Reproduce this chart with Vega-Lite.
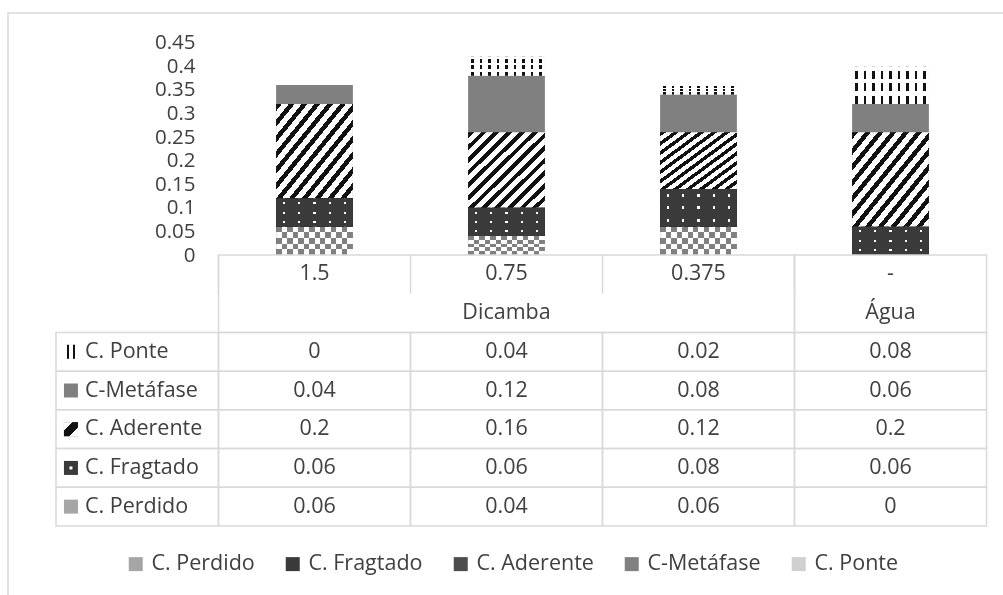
{
  "$schema": "https://vega.github.io/schema/vega-lite/v6.json",
  "width": 1010,
  "height": 600,
  "autosize": {"type": "none"},
  "padding": {"left": 8, "top": 13, "right": -15, "bottom": -18},
  "background": "white",
  "config": {
    "view": {"stroke": "#d9d9d9", "strokeWidth": 1.5},
    "font": "Open Sans",
    "text": {"font": "Open Sans", "fontSize": 21.5, "fill": "#404040"}
  },
  "datasets": {
    "cells": [
      {"dose": "1.5", "group": "Dicamba", "series": "C. Ponte", "value": 0},
      {"dose": "1.5", "group": "Dicamba", "series": "C-Metáfase", "value": 0.04},
      {"dose": "1.5", "group": "Dicamba", "series": "C. Aderente", "value": 0.2},
      {"dose": "1.5", "group": "Dicamba", "series": "C. Fragtado", "value": 0.06},
      {"dose": "1.5", "group": "Dicamba", "series": "C. Perdido", "value": 0.06},
      {"dose": "0.75", "group": "Dicamba", "series": "C. Ponte", "value": 0.04},
      {"dose": "0.75", "group": "Dicamba", "series": "C-Metáfase", "value": 0.12},
      {"dose": "0.75", "group": "Dicamba", "series": "C. Aderente", "value": 0.16},
      {"dose": "0.75", "group": "Dicamba", "series": "C. Fragtado", "value": 0.06},
      {"dose": "0.75", "group": "Dicamba", "series": "C. Perdido", "value": 0.04},
      {"dose": "0.375", "group": "Dicamba", "series": "C. Ponte", "value": 0.02},
      {"dose": "0.375", "group": "Dicamba", "series": "C-Metáfase", "value": 0.08},
      {"dose": "0.375", "group": "Dicamba", "series": "C. Aderente", "value": 0.12},
      {"dose": "0.375", "group": "Dicamba", "series": "C. Fragtado", "value": 0.08},
      {"dose": "0.375", "group": "Dicamba", "series": "C. Perdido", "value": 0.06},
      {"dose": "-", "group": "Água", "series": "C. Ponte", "value": 0.08},
      {"dose": "-", "group": "Água", "series": "C-Metáfase", "value": 0.06},
      {"dose": "-", "group": "Água", "series": "C. Aderente", "value": 0.2},
      {"dose": "-", "group": "Água", "series": "C. Fragtado", "value": 0.06},
      {"dose": "-", "group": "Água", "series": "C. Perdido", "value": 0}
    ],
    "doses": [{"dose": "1.5"}, {"dose": "0.75"}, {"dose": "0.375"}, {"dose": "-"}],
    "groups": [
      {"group": "Dicamba", "first": "1.5", "last": "0.375", "center": "0.75"},
      {"group": "Água", "first": "-", "last": "-", "center": "-"}
    ],
    "series": [
      {"series": "C. Ponte"},
      {"series": "C-Metáfase"},
      {"series": "C. Aderente"},
      {"series": "C. Fragtado"},
      {"series": "C. Perdido"}
    ]
  },
  "resolve": {"scale": {"x": "independent", "y": "independent"}},
  "layer": [
    {
      "data": {"name": "cells"},
      "transform": [
        {"calculate": "indexof(['C. Perdido','C. Fragtado','C. Aderente','C-Metáfase','C. Ponte'], datum.series)", "as": "k"},
        {"stack": "value", "groupby": ["dose"], "sort": [{"field": "k", "order": "ascending"}], "as": ["v0", "v1"]}
      ],
      "encoding": {
        "x": {"field": "dose", "type": "nominal", "axis": null,
          "scale": {"type": "band", "domain": ["1.5", "0.75", "0.375", "-"], "range": [210.5, 978.5], "paddingInner": 0.6, "paddingOuter": 0.3, "round": false}},
        "y": {"field": "v1", "type": "quantitative",
          "scale": {"domain": [0, 0.45], "range": [242, 29.6], "nice": false, "zero": true},
          "axis": {"values": [0, 0.05, 0.1, 0.15, 0.2, 0.25, 0.3, 0.35, 0.4, 0.45], "format": ".2~f", "domain": false, "ticks": false, "grid": false, "title": null, "labelPadding": 0, "offset": -187, "labelFontSize": 20.5, "labelColor": "#404040", "labelFont": "Open Sans", "labelOverlap": false, "labelFlush": false, "labelBound": false}},
        "y2": {"field": "v0"}
      },
      "layer": [
        {
          "mark": {"type": "bar"},
          "encoding": {
            "color": {"field": "series", "type": "nominal",
              "scale": {"domain": ["C. Perdido", "C. Fragtado", "C. Aderente", "C-Metáfase", "C. Ponte"], "range": ["#a6a6a6", "#3a3a3a", "#4d4d4d", "#808080", "#d0d0d0"]},
              "legend": {"orient": "none", "legendX": 117, "legendY": 540, "direction": "horizontal", "title": null, "symbolType": "square", "symbolSize": 196, "symbolStrokeWidth": 0, "labelFontSize": 21.5, "labelColor": "#404040", "labelFont": "Open Sans", "labelOffset": 5, "columnPadding": 27, "labelLimit": 300}}
          }
        },
        {
          "transform": [{"filter": "datum.series === 'C. Aderente'"}],
          "mark": {"type": "bar", "fill": {"gradient": "linear", "x1": 0, "y1": 0, "x2": 1, "y2": 1, "stops": [
            {"offset": 0, "color": "#111111"}, {"offset": 0.0375, "color": "#111111"}, {"offset": 0.0375, "color": "#ffffff"}, {"offset": 0.0833, "color": "#ffffff"},
            {"offset": 0.0833, "color": "#111111"}, {"offset": 0.1208, "color": "#111111"}, {"offset": 0.1208, "color": "#ffffff"}, {"offset": 0.1667, "color": "#ffffff"},
            {"offset": 0.1667, "color": "#111111"}, {"offset": 0.2042, "color": "#111111"}, {"offset": 0.2042, "color": "#ffffff"}, {"offset": 0.25, "color": "#ffffff"},
            {"offset": 0.25, "color": "#111111"}, {"offset": 0.2875, "color": "#111111"}, {"offset": 0.2875, "color": "#ffffff"}, {"offset": 0.3333, "color": "#ffffff"},
            {"offset": 0.3333, "color": "#111111"}, {"offset": 0.3708, "color": "#111111"}, {"offset": 0.3708, "color": "#ffffff"}, {"offset": 0.4167, "color": "#ffffff"},
            {"offset": 0.4167, "color": "#111111"}, {"offset": 0.4542, "color": "#111111"}, {"offset": 0.4542, "color": "#ffffff"}, {"offset": 0.5, "color": "#ffffff"},
            {"offset": 0.5, "color": "#111111"}, {"offset": 0.5375, "color": "#111111"}, {"offset": 0.5375, "color": "#ffffff"}, {"offset": 0.5833, "color": "#ffffff"},
            {"offset": 0.5833, "color": "#111111"}, {"offset": 0.6208, "color": "#111111"}, {"offset": 0.6208, "color": "#ffffff"}, {"offset": 0.6667, "color": "#ffffff"},
            {"offset": 0.6667, "color": "#111111"}, {"offset": 0.7042, "color": "#111111"}, {"offset": 0.7042, "color": "#ffffff"}, {"offset": 0.75, "color": "#ffffff"},
            {"offset": 0.75, "color": "#111111"}, {"offset": 0.7875, "color": "#111111"}, {"offset": 0.7875, "color": "#ffffff"}, {"offset": 0.8333, "color": "#ffffff"},
            {"offset": 0.8333, "color": "#111111"}, {"offset": 0.8708, "color": "#111111"}, {"offset": 0.8708, "color": "#ffffff"}, {"offset": 0.9167, "color": "#ffffff"},
            {"offset": 0.9167, "color": "#111111"}, {"offset": 0.9542, "color": "#111111"}, {"offset": 0.9542, "color": "#ffffff"}, {"offset": 1, "color": "#ffffff"}
          ]}}
        },
        {
          "transform": [{"filter": "datum.series === 'C. Ponte'"}],
          "mark": {"type": "bar", "fill": {"gradient": "linear", "x1": 0, "y1": 0, "x2": 1, "y2": 0, "stops": [
            {"offset": 0, "color": "#ffffff"},
            {"offset": 0.0389, "color": "#ffffff"}, {"offset": 0.0389, "color": "#111111"}, {"offset": 0.0722, "color": "#111111"}, {"offset": 0.0722, "color": "#ffffff"},
            {"offset": 0.15, "color": "#ffffff"}, {"offset": 0.15, "color": "#111111"}, {"offset": 0.1833, "color": "#111111"}, {"offset": 0.1833, "color": "#ffffff"},
            {"offset": 0.2611, "color": "#ffffff"}, {"offset": 0.2611, "color": "#111111"}, {"offset": 0.2944, "color": "#111111"}, {"offset": 0.2944, "color": "#ffffff"},
            {"offset": 0.3722, "color": "#ffffff"}, {"offset": 0.3722, "color": "#111111"}, {"offset": 0.4056, "color": "#111111"}, {"offset": 0.4056, "color": "#ffffff"},
            {"offset": 0.4833, "color": "#ffffff"}, {"offset": 0.4833, "color": "#111111"}, {"offset": 0.5167, "color": "#111111"}, {"offset": 0.5167, "color": "#ffffff"},
            {"offset": 0.5944, "color": "#ffffff"}, {"offset": 0.5944, "color": "#111111"}, {"offset": 0.6278, "color": "#111111"}, {"offset": 0.6278, "color": "#ffffff"},
            {"offset": 0.7056, "color": "#ffffff"}, {"offset": 0.7056, "color": "#111111"}, {"offset": 0.7389, "color": "#111111"}, {"offset": 0.7389, "color": "#ffffff"},
            {"offset": 0.8167, "color": "#ffffff"}, {"offset": 0.8167, "color": "#111111"}, {"offset": 0.85, "color": "#111111"}, {"offset": 0.85, "color": "#ffffff"},
            {"offset": 0.9278, "color": "#ffffff"}, {"offset": 0.9278, "color": "#111111"}, {"offset": 0.9611, "color": "#111111"}, {"offset": 0.9611, "color": "#ffffff"},
            {"offset": 1, "color": "#ffffff"}
          ]}}
        },
        {
          "transform": [{"filter": "datum.series === 'C. Ponte'"}],
          "mark": {"type": "bar", "fill": {"gradient": "linear", "x1": 0, "y1": 0, "x2": 0, "y2": 1, "stops": [
            {"offset": 0, "color": "rgba(255,255,255,1)"}, {"offset": 0.1167, "color": "rgba(255,255,255,1)"}, {"offset": 0.1167, "color": "rgba(255,255,255,0)"}, {"offset": 0.3333, "color": "rgba(255,255,255,0)"},
            {"offset": 0.3333, "color": "rgba(255,255,255,1)"}, {"offset": 0.45, "color": "rgba(255,255,255,1)"}, {"offset": 0.45, "color": "rgba(255,255,255,0)"}, {"offset": 0.6667, "color": "rgba(255,255,255,0)"},
            {"offset": 0.6667, "color": "rgba(255,255,255,1)"}, {"offset": 0.7833, "color": "rgba(255,255,255,1)"}, {"offset": 0.7833, "color": "rgba(255,255,255,0)"}, {"offset": 1, "color": "rgba(255,255,255,0)"}
          ]}}
        },
        {
          "transform": [{"filter": "datum.series === 'C. Perdido'"}],
          "mark": {"type": "bar", "fill": {"gradient": "linear", "x1": 0, "y1": 0, "x2": 1, "y2": 0, "stops": [
            {"offset": 0, "color": "#000000"}, {"offset": 0.0714, "color": "#000000"}, {"offset": 0.0714, "color": "#ffffff"}, {"offset": 0.1429, "color": "#ffffff"},
            {"offset": 0.1429, "color": "#000000"}, {"offset": 0.2143, "color": "#000000"}, {"offset": 0.2143, "color": "#ffffff"}, {"offset": 0.2857, "color": "#ffffff"},
            {"offset": 0.2857, "color": "#000000"}, {"offset": 0.3571, "color": "#000000"}, {"offset": 0.3571, "color": "#ffffff"}, {"offset": 0.4286, "color": "#ffffff"},
            {"offset": 0.4286, "color": "#000000"}, {"offset": 0.5, "color": "#000000"}, {"offset": 0.5, "color": "#ffffff"}, {"offset": 0.5714, "color": "#ffffff"},
            {"offset": 0.5714, "color": "#000000"}, {"offset": 0.6429, "color": "#000000"}, {"offset": 0.6429, "color": "#ffffff"}, {"offset": 0.7143, "color": "#ffffff"},
            {"offset": 0.7143, "color": "#000000"}, {"offset": 0.7857, "color": "#000000"}, {"offset": 0.7857, "color": "#ffffff"}, {"offset": 0.8571, "color": "#ffffff"},
            {"offset": 0.8571, "color": "#000000"}, {"offset": 0.9286, "color": "#000000"}, {"offset": 0.9286, "color": "#ffffff"}, {"offset": 1, "color": "#ffffff"}
          ]}}
        },
        {
          "transform": [{"filter": "datum.series === 'C. Perdido'"}],
          "mark": {"type": "bar", "blend": "difference", "fill": {"gradient": "linear", "x1": 0, "y1": 0, "x2": 0, "y2": 1, "stops": [
            {"offset": 0, "color": "#000000"}, {"offset": 0.2, "color": "#000000"}, {"offset": 0.2, "color": "#ffffff"}, {"offset": 0.4, "color": "#ffffff"},
            {"offset": 0.4, "color": "#000000"}, {"offset": 0.6, "color": "#000000"}, {"offset": 0.6, "color": "#ffffff"}, {"offset": 0.8, "color": "#ffffff"},
            {"offset": 0.8, "color": "#000000"}, {"offset": 1, "color": "#000000"}
          ]}}
        },
        {
          "transform": [{"filter": "datum.series === 'C. Perdido'"}],
          "mark": {"type": "bar", "blend": "screen", "fill": "#808080"}
        },
        {
          "transform": [{"filter": "datum.series === 'C. Fragtado'"}],
          "mark": {"type": "bar", "fill": {"gradient": "linear", "x1": 0, "y1": 0, "x2": 1, "y2": 0, "stops": [
            {"offset": 0, "color": "#000000"}, {"offset": 0.086, "color": "#000000"}, {"offset": 0.086, "color": "#ffffff"}, {"offset": 0.114, "color": "#ffffff"},
            {"offset": 0.114, "color": "#000000"}, {"offset": 0.286, "color": "#000000"}, {"offset": 0.286, "color": "#ffffff"}, {"offset": 0.314, "color": "#ffffff"},
            {"offset": 0.314, "color": "#000000"}, {"offset": 0.486, "color": "#000000"}, {"offset": 0.486, "color": "#ffffff"}, {"offset": 0.514, "color": "#ffffff"},
            {"offset": 0.514, "color": "#000000"}, {"offset": 0.686, "color": "#000000"}, {"offset": 0.686, "color": "#ffffff"}, {"offset": 0.714, "color": "#ffffff"},
            {"offset": 0.714, "color": "#000000"}, {"offset": 0.886, "color": "#000000"}, {"offset": 0.886, "color": "#ffffff"}, {"offset": 0.914, "color": "#ffffff"},
            {"offset": 0.914, "color": "#000000"}, {"offset": 1, "color": "#000000"}
          ]}}
        },
        {
          "transform": [{"filter": "datum.series === 'C. Fragtado'"}],
          "mark": {"type": "bar", "blend": "multiply", "fill": {"gradient": "linear", "x1": 0, "y1": 0, "x2": 0, "y2": 1, "stops": [
            {"offset": 0, "color": "#000000"}, {"offset": 0.131, "color": "#000000"}, {"offset": 0.131, "color": "#ffffff"}, {"offset": 0.202, "color": "#ffffff"},
            {"offset": 0.202, "color": "#000000"}, {"offset": 0.465, "color": "#000000"}, {"offset": 0.465, "color": "#ffffff"}, {"offset": 0.535, "color": "#ffffff"},
            {"offset": 0.535, "color": "#000000"}, {"offset": 0.798, "color": "#000000"}, {"offset": 0.798, "color": "#ffffff"}, {"offset": 0.869, "color": "#ffffff"},
            {"offset": 0.869, "color": "#000000"}, {"offset": 1, "color": "#000000"}
          ]}}
        },
        {
          "transform": [{"filter": "datum.series === 'C. Fragtado'"}],
          "mark": {"type": "bar", "blend": "screen", "fill": "#3a3a3a"}
        }
      ]
    },
    {
      "layer": [
        {
          "data": {"name": "cells"},
          "mark": {"type": "rect", "fill": "transparent", "stroke": "#d9d9d9", "strokeWidth": 1.5},
          "encoding": {
            "x": {"field": "dose", "type": "nominal", "axis": null,
              "scale": {"type": "band", "domain": ["1.5", "0.75", "0.375", "-"], "range": [210.5, 978.5], "paddingInner": 0, "paddingOuter": 0, "round": false}},
            "y": {"field": "series", "type": "nominal", "axis": null,
              "scale": {"type": "band", "domain": ["dose", "group", "C. Ponte", "C-Metáfase", "C. Aderente", "C. Fragtado", "C. Perdido"], "range": [242, 513], "paddingInner": 0, "paddingOuter": 0, "round": false}}
          }
        },
        {
          "data": {"name": "cells"},
          "mark": {"type": "text", "align": "center", "baseline": "middle"},
          "encoding": {
            "x": {"field": "dose", "type": "nominal", "axis": null},
            "y": {"field": "series", "type": "nominal", "axis": null},
            "text": {"field": "value", "type": "quantitative", "format": ".2~f"}
          }
        },
        {
          "data": {"name": "groups"},
          "mark": {"type": "rect", "fill": "transparent", "stroke": "#d9d9d9", "strokeWidth": 1.5},
          "encoding": {
            "x": {"field": "first", "type": "nominal", "bandPosition": 0, "axis": null},
            "x2": {"field": "last", "bandPosition": 1},
            "y": {"datum": "dose", "type": "nominal", "bandPosition": 0, "axis": null},
            "y2": {"datum": "group", "bandPosition": 1}
          }
        },
        {
          "data": {"name": "doses"},
          "mark": {"type": "rule", "stroke": "#d9d9d9", "strokeWidth": 1.5},
          "encoding": {
            "x": {"field": "dose", "type": "nominal", "bandPosition": 0, "axis": null},
            "y": {"datum": "dose", "type": "nominal", "bandPosition": 0, "axis": null},
            "y2": {"datum": "dose", "bandPosition": 1}
          }
        },
        {
          "data": {"name": "doses"},
          "mark": {"type": "text", "align": "center", "baseline": "middle"},
          "encoding": {
            "x": {"field": "dose", "type": "nominal", "axis": null},
            "y": {"datum": "dose", "type": "nominal", "axis": null},
            "text": {"field": "dose"}
          }
        },
        {
          "data": {"name": "groups"},
          "mark": {"type": "text", "align": "center", "baseline": "middle"},
          "encoding": {
            "x": {"field": "center", "type": "nominal", "axis": null},
            "y": {"datum": "group", "type": "nominal", "axis": null},
            "text": {"field": "group"}
          }
        }
      ]
    },
    {
      "data": {"name": "series"},
      "layer": [
        {
          "mark": {"type": "rect", "fill": "transparent", "stroke": "#d9d9d9", "strokeWidth": 1.5},
          "encoding": {
            "x": {"datum": "lbl", "type": "nominal", "axis": null,
              "scale": {"type": "band", "domain": ["lbl"], "range": [48, 210.5], "paddingInner": 0, "paddingOuter": 0, "round": false}},
            "y": {"field": "series", "type": "nominal", "axis": null,
              "scale": {"type": "band", "domain": ["dose", "group", "C. Ponte", "C-Metáfase", "C. Aderente", "C. Fragtado", "C. Perdido"], "range": [242, 513], "paddingInner": 0, "paddingOuter": 0, "round": false}}
          }
        },
        {
          "mark": {"type": "point", "shape": "square", "filled": true, "size": 196, "opacity": 1},
          "encoding": {
            "x": {"datum": "lbl", "type": "nominal", "bandPosition": 0.092, "axis": null},
            "y": {"field": "series", "type": "nominal", "axis": null},
            "color": {"field": "series", "type": "nominal"}
          }
        },
        {
          "transform": [{"filter": "datum.series === 'C. Aderente'"}],
          "mark": {"type": "point", "shape": "square", "filled": true, "size": 196, "opacity": 1,
            "fill": {"gradient": "linear", "x1": 0, "y1": 0, "x2": 1, "y2": 1, "stops": [
              {"offset": 0, "color": "#ffffff"}, {"offset": 0.3, "color": "#ffffff"}, {"offset": 0.3, "color": "#111111"},
              {"offset": 0.7, "color": "#111111"}, {"offset": 0.7, "color": "#ffffff"}, {"offset": 1, "color": "#ffffff"}
            ]}},
          "encoding": {
            "x": {"datum": "lbl", "type": "nominal", "bandPosition": 0.092, "axis": null},
            "y": {"field": "series", "type": "nominal", "axis": null}
          }
        },
        {
          "transform": [{"filter": "datum.series === 'C. Ponte'"}],
          "mark": {"type": "point", "shape": "square", "filled": true, "size": 196, "opacity": 1,
            "fill": {"gradient": "linear", "x1": 0, "y1": 0, "x2": 1, "y2": 0, "stops": [
              {"offset": 0, "color": "#ffffff"}, {"offset": 0.2, "color": "#ffffff"}, {"offset": 0.2, "color": "#111111"},
              {"offset": 0.35, "color": "#111111"}, {"offset": 0.35, "color": "#ffffff"}, {"offset": 0.65, "color": "#ffffff"},
              {"offset": 0.65, "color": "#111111"}, {"offset": 0.8, "color": "#111111"}, {"offset": 0.8, "color": "#ffffff"}, {"offset": 1, "color": "#ffffff"}
            ]}},
          "encoding": {
            "x": {"datum": "lbl", "type": "nominal", "bandPosition": 0.092, "axis": null},
            "y": {"field": "series", "type": "nominal", "axis": null}
          }
        },
        {
          "transform": [{"filter": "datum.series === 'C. Fragtado'"}],
          "mark": {"type": "point", "shape": "square", "filled": true, "size": 9, "opacity": 1, "fill": "#ffffff"},
          "encoding": {
            "x": {"datum": "lbl", "type": "nominal", "bandPosition": 0.092, "axis": null},
            "y": {"field": "series", "type": "nominal", "axis": null}
          }
        },
        {
          "mark": {"type": "text", "align": "left", "baseline": "middle"},
          "encoding": {
            "x": {"datum": "lbl", "type": "nominal", "bandPosition": 0.178, "axis": null},
            "y": {"field": "series", "type": "nominal", "axis": null},
            "text": {"field": "series"}
          }
        }
      ]
    }
  ]
}
